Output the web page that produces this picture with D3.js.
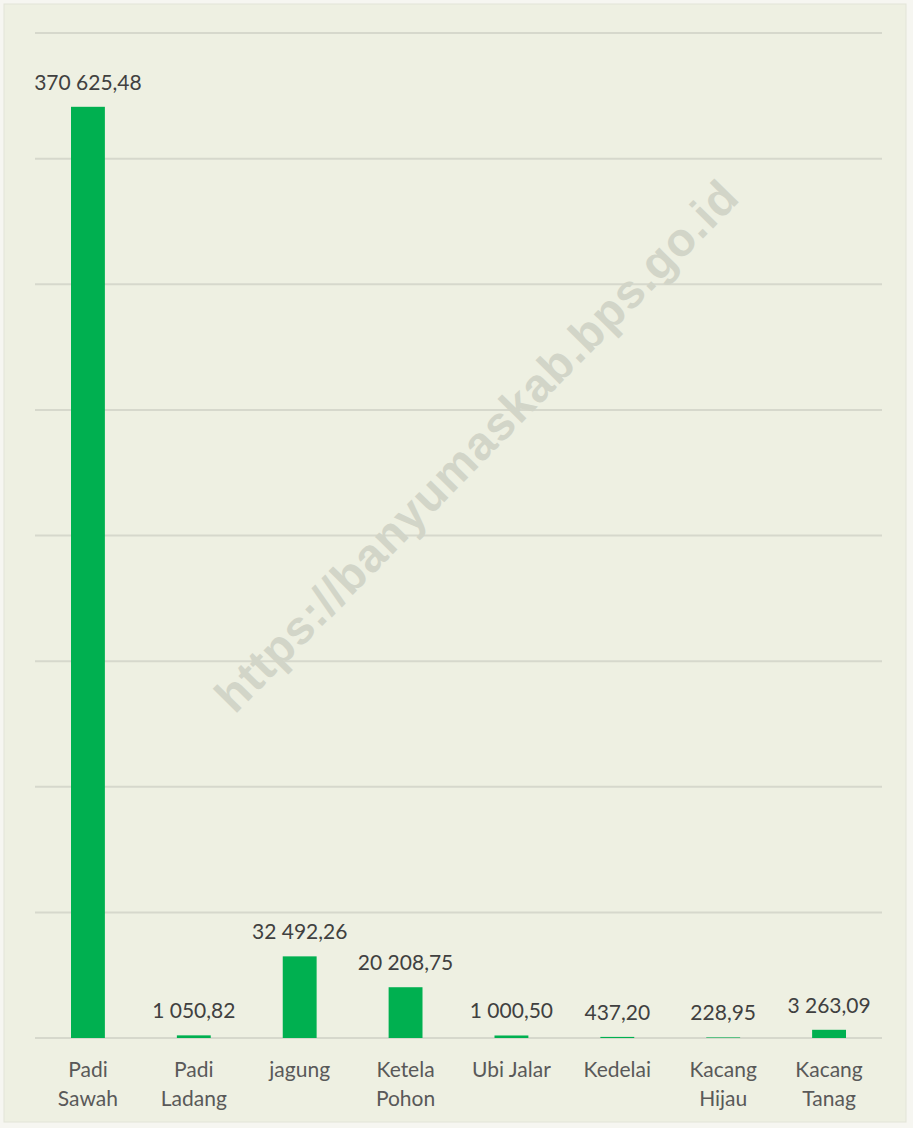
<!DOCTYPE html>
<html>
<head>
<meta charset="utf-8">
<script src="https://cdn.jsdelivr.net/npm/d3@7"></script>
<style>
  body { margin: 0; background: #f6f6f1; }
  svg { display: block; }
</style>
</head>
<body>
<div id="chart"></div>
<script>
// données (ha)
const categories = [["Padi", "Sawah"], ["Padi", "Ladang"], ["jagung"], ["Ketela", "Pohon"],
  ["Ubi Jalar"], ["Kedelai"], ["Kacang", "Hijau"], ["Kacang", "Tanag"]];
const values = [370625.48, 1050.82, 32492.26, 20208.75, 1000.50, 437.20, 228.95, 3263.09];
const gridTicks = [0, 50000, 100000, 150000, 200000, 250000, 300000, 350000, 400000];

let width = 913,
    height = 1128;

let svg = d3.select('#chart').append('svg')
  .attr('width', width)
  .attr('height', height);

/* fond du graph */
svg.append('rect')
  .attr('x', 4).attr('y', 4)
  .attr('width', 902).attr('height', 1118)
  .attr('fill', '#eef0e2')
  .attr('stroke', '#e2e4d8')
  .attr('stroke-width', 1);

let x = d3.scaleBand()
  .domain(d3.range(categories.length))
  .range([35, 882])
  .paddingInner(0.68)
  .paddingOuter(0.34);

let y = d3.scaleLinear()
  .domain([0, 400000])
  .range([1038, 33]);

/* lignes de grille */
svg.append('g').selectAll('line')
  .data(gridTicks)
  .enter().append('line')
  .attr('x1', 35).attr('x2', 882)
  .attr('y1', d => y(d)).attr('y2', d => y(d))
  .attr('stroke', '#d6d8cc')
  .attr('stroke-width', 2);

/* filigrane */
svg.append('text')
  .attr('transform', 'translate(476,446) rotate(-45.5)')
  .attr('text-anchor', 'middle')
  .attr('dominant-baseline', 'central')
  .attr('font-family', 'Liberation Sans, Arial, sans-serif')
  .attr('font-weight', 'bold')
  .attr('font-size', 47)
  .attr('textLength', 722)
  .attr('fill', '#d2d5c8')
  .text('https://banyumaskab.bps.go.id');

/* barres */
svg.append('g').selectAll('rect')
  .data(values)
  .enter().append('rect')
  .attr('x', (d, i) => x(i))
  .attr('y', d => y(d))
  .attr('width', x.bandwidth())
  .attr('height', d => y(0) - y(d))
  .attr('fill', '#00b050');

let fmt = d3.formatLocale({ decimal: ',', thousands: ' ', grouping: [3] }).format(',.2f');

/* étiquettes de valeur */
svg.append('g').selectAll('text')
  .data(values)
  .enter().append('text')
  .attr('x', (d, i) => x(i) + x.bandwidth() / 2)
  .attr('y', d => y(d) - 17)
  .attr('text-anchor', 'middle')
  .attr('font-family', 'Lato, sans-serif')
  .attr('font-size', 21)
  .attr('fill', '#404040')
  .text(d => fmt(d));

/* étiquettes de catégorie */
let catLabels = svg.append('g').selectAll('text')
  .data(categories)
  .enter().append('text')
  .attr('x', (d, i) => x(i) + x.bandwidth() / 2)
  .attr('y', 1077)
  .attr('text-anchor', 'middle')
  .attr('font-family', 'Lato, sans-serif')
  .attr('font-size', 21)
  .attr('fill', '#595959');

catLabels.each(function (d, i) {
  let t = d3.select(this);
  d.forEach((line, j) => {
    t.append('tspan')
      .attr('x', x(i) + x.bandwidth() / 2)
      .attr('dy', j === 0 ? 0 : 29)
      .text(line);
  });
});
</script>
</body>
</html>
